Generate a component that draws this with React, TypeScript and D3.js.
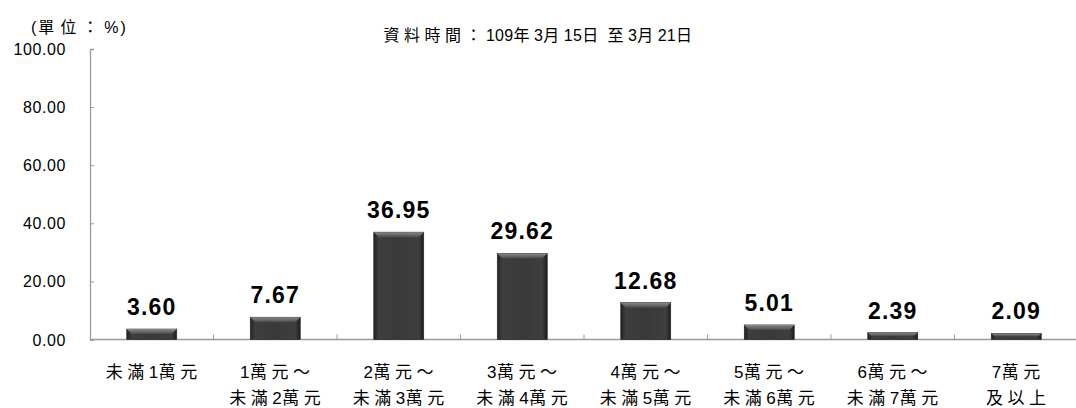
import React, { useEffect, useRef } from 'react';
import * as d3 from 'd3';

const categories = [
  ['未滿1萬元'],
  ['1萬元～', '未滿2萬元'],
  ['2萬元～', '未滿3萬元'],
  ['3萬元～', '未滿4萬元'],
  ['4萬元～', '未滿5萬元'],
  ['5萬元～', '未滿6萬元'],
  ['6萬元～', '未滿7萬元'],
  ['7萬元', '及以上'],
];
const values = [3.6, 7.67, 36.95, 29.62, 12.68, 5.01, 2.39, 2.09];
const yTicks = [0, 20, 40, 60, 80, 100];
const title = '資料時間：109年3月15日 至3月21日';
const unitLabel = '(單位：%)';

const FONT = 'Arial, "Liberation Sans", "Noto Sans CJK TC", sans-serif';

// write text as runs so that only the CJK characters get the wide spacing
function addRuns(t: d3.Selection<any, any, any, any>, str: string, cjkGap: number, latinGap = 0) {
  const runs = str.match(/[\u0000-\u00ff]+|[^\u0000-\u00ff]+/g) || [];
  runs.forEach(r => {
    const cjk = /[^\u0000-\u00ff]/.test(r);
    t.append('tspan').attr('letter-spacing', cjk ? cjkGap : latinGap).text(r);
  });
}

export default function App() {
  const svgRef = useRef<SVGSVGElement>(null);

  useEffect(() => {
    if (!svgRef.current) return;
    const width = 1076;
    const height = 408;
    const left = 90;
    const right = 1078;
    const top = 49;
    const bottom = 339.5;

    const svg = d3.select(svgRef.current);
    svg.selectAll('*').remove();
    svg.attr('width', width).attr('height', height);

    const defs = svg.append('defs');
    const hg = defs.append('linearGradient').attr('id', 'barH').attr('x1', 0).attr('x2', 1).attr('y1', 0).attr('y2', 0);
    hg.append('stop').attr('offset', '0%').attr('stop-color', '#222');
    hg.append('stop').attr('offset', '10%').attr('stop-color', '#3e3e3e');
    hg.append('stop').attr('offset', '50%').attr('stop-color', '#393939');
    hg.append('stop').attr('offset', '90%').attr('stop-color', '#3e3e3e');
    hg.append('stop').attr('offset', '100%').attr('stop-color', '#1c1c1c');
    const tg = defs.append('linearGradient').attr('id', 'barT').attr('x1', 0).attr('x2', 0).attr('y1', 0).attr('y2', 1);
    tg.append('stop').attr('offset', '0%').attr('stop-color', '#8a8a8a');
    tg.append('stop').attr('offset', '100%').attr('stop-color', '#4a4a4a');

    const x = d3.scaleBand<number>().domain(d3.range(categories.length)).range([left, right]);
    const y = d3.scaleLinear().domain([0, 100]).range([bottom, top]);

    // axes
    const yAxis = svg.append('g').attr('transform', `translate(${left},0)`)
      .call(d3.axisRight(y).tickValues(yTicks).tickSize(4).tickFormat(() => ''));
    yAxis.select('.domain').attr('stroke', '#9a9a9a').attr('stroke-width', 1.3);
    yAxis.selectAll('line').attr('stroke', '#9a9a9a');

    svg.append('g').selectAll('text').data(yTicks).enter().append('text')
      .attr('x', 66).attr('y', d => y(d) + 6)
      .attr('text-anchor', 'end')
      .attr('letter-spacing', '0.6')
      .style('font', `16px ${FONT}`).attr('fill', '#000')
      .text(d => d.toFixed(2));

    svg.append('line').attr('x1', left).attr('x2', width).attr('y1', bottom).attr('y2', bottom)
      .attr('stroke', '#9a9a9a').attr('stroke-width', 1.3);
    svg.append('g').selectAll('line').data(d3.range(1, categories.length)).enter().append('line')
      .attr('x1', d => x(d) as number).attr('x2', d => x(d) as number)
      .attr('y1', bottom).attr('y2', bottom - 5)
      .attr('stroke', '#9a9a9a');

    // bars
    const barW = 50;
    const bars = svg.append('g').selectAll('g').data(values).enter().append('g')
      .attr('transform', (d, i) => `translate(${(x(i) as number) + x.bandwidth() / 2 - barW / 2},0)`);
    bars.append('rect')
      .attr('x', 0).attr('y', d => y(d)).attr('width', barW).attr('height', d => bottom - y(d))
      .attr('fill', 'url(#barH)').attr('stroke', '#222').attr('stroke-width', 0.6);
    bars.append('path')
      .attr('d', d => {
        const h = bottom - y(d);
        const b = Math.min(5, h / 2);
        const t = y(d);
        return `M0,${t}L${barW},${t}L${barW - b},${t + b}L${b},${t + b}Z`;
      })
      .attr('fill', 'url(#barT)');

    // value labels
    svg.append('g').selectAll('text').data(values).enter().append('text')
      .attr('x', (d, i) => (x(i) as number) + x.bandwidth() / 2)
      .attr('y', d => y(d) - 14)
      .attr('text-anchor', 'middle')
      .attr('letter-spacing', '1.2')
      .style('font', `bold 23px ${FONT}`).attr('fill', '#000')
      .text(d => d.toFixed(2));

    // category labels
    categories.forEach((lines, i) => {
      lines.forEach((ln, j) => {
        const t = svg.append('text')
          .attr('x', (x(i) as number) + x.bandwidth() / 2 + 2)
          .attr('y', 378 + j * 26)
          .attr('text-anchor', 'middle')
          .style('font', `17px ${FONT}`).attr('fill', '#000');
        addRuns(t, ln, 4.5, 0.5);
      });
    });

    const tt = svg.append('text').attr('x', 540).attr('y', 41).attr('text-anchor', 'middle')
      .style('font', `16px ${FONT}`).attr('fill', '#000');
    addRuns(tt, title, 4.5, 0.3);
    const ut = svg.append('text').attr('x', 31).attr('y', 33)
      .style('font', `16px ${FONT}`).attr('fill', '#000');
    addRuns(ut, unitLabel, 6, 2);
  }, []);

  return <svg ref={svgRef} style={{ position: 'absolute', left: 0, top: 0 }}></svg>;
}
